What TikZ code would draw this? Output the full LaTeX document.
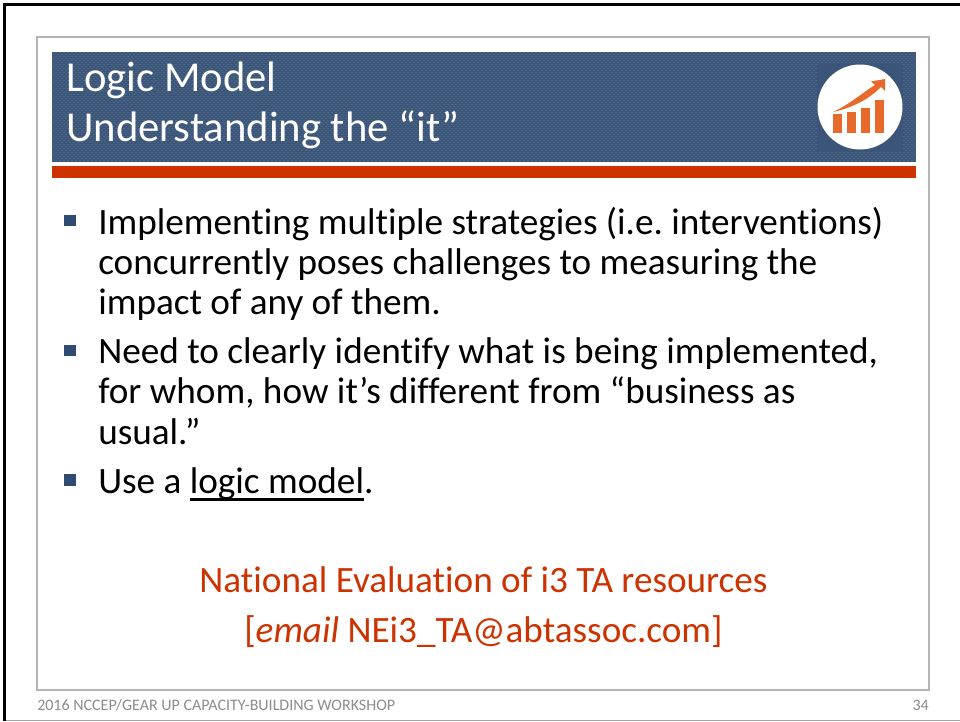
\documentclass[tikz,border=0pt]{standalone}
\usepackage{fontspec}
\setmainfont{Carlito}[RawFeature={-liga;-clig;-dlig}]
\frenchspacing
\definecolor{navy}{HTML}{3A5578}
\definecolor{rust}{HTML}{CC3300}
\definecolor{chart}{HTML}{E8692C}
\definecolor{foot}{HTML}{8C8C8C}
\definecolor{framegray}{HTML}{B4B4B4}
\definecolor{bulletblue}{HTML}{2F4B73}
\newlength\ulw
\newcommand\thickul[1]{\settowidth\ulw{#1}\rlap{\rule[-5.8pt]{\ulw}{2.1pt}}#1}
\tikzset{
  px/.style={x=0.75pt,y=-0.75pt},
  titletext/.style={anchor=base west,inner sep=0,text=white,font=\fontsize{32}{32}\selectfont},
  bodytext/.style={anchor=base west,inner sep=0,text=black,font=\fontsize{27.9}{28}\selectfont},
  redtext/.style={anchor=base,inner sep=0,text=rust,font=\fontsize{27.9}{28}\selectfont},
  foottext/.style={inner sep=0,text=foot,font=\fontsize{12}{12}\selectfont},
  bullet/.style={fill=bulletblue,draw=none}
}
\begin{document}
\begin{tikzpicture}[px]
\useasboundingbox (0,0) rectangle (960,721);
\fill[white] (0,0) rectangle (960,721);
% outer frame
\fill[black] (3,3) rectangle (960,5.5);
\fill[black] (3,3) rectangle (6,721);
\fill[gray!70] (6,719.5) rectangle (960,721);
% slide frame
\draw[framegray,line width=0.9pt] (37,37) rectangle (929,690);
% title band
\fill[navy] (52,52) rectangle (916,162);
\begin{scope}
\clip (52,52) rectangle (916,162);
\foreach \i in {0,2,...,432}{
  \draw[white,opacity=0.12,line width=1pt,dash pattern=on 1.1pt off 1.9pt] (52+2*\i,52) -- (52+2*\i,162);
  \draw[white,opacity=0.12,line width=1pt,dash pattern=on 1.1pt off 1.9pt,dash phase=1.5pt] (54+2*\i,52) -- (54+2*\i,162);
}
\end{scope}
\fill[navy] (817,63) rectangle (903,152);
\fill[rust] (52,166) rectangle (916,178);
% icon
\fill[white] (860,107) circle (42.5);
\fill[chart] (833,114) rectangle (842,133);
\fill[chart] (847,112) rectangle (856,133);
\fill[chart] (861,108) rectangle (870,133);
\fill[chart] (874.5,100) rectangle (884,133);
\fill[chart] (833,112) .. controls (852,103) and (866,90) .. (875,85) -- (871,81.5) -- (885,79) -- (885,91) -- (881,87) .. controls (870,98) and (855,107) .. (833,112) -- cycle;
% title
\node[titletext] (t1) at (66,91) {Logic Model};
\node[titletext] (t2) at (66,141) {Understanding the “it”};
% bullets
\fill[bullet] (64,214.5) rectangle (75.5,226);
\fill[bullet] (64,344.5) rectangle (75.5,356);
\fill[bullet] (64,474) rectangle (75.5,485.5);
% body
\node[bodytext] (b1) at (98,234) {Implementing multiple strategies (i.e. interventions)};
\node[bodytext] (b2) at (98,274) {concurrently poses challenges to measuring the};
\node[bodytext] (b3) at (98,314) {impact of any of them.};
\node[bodytext] (b4) at (98,363) {Need to clearly identify what is being implemented,};
\node[bodytext] (b5) at (98,403) {for whom, how it’s different from “business as};
\node[bodytext] (b6) at (98,444) {usual.”};
\node[bodytext] (b7) at (98,493) {Use a \thickul{logic model}.};
% red
\node[redtext] (r1) at (483.5,592) {National Evaluation of i3 TA resources};
\node[redtext] (r2) at (483.5,642) {[\textit{email} NEi3\_TA@abtassoc.com]};
% footer
\node[foottext,anchor=west] (f1) at (37,705) {2016 NCCEP/GEAR UP CAPACITY-BUILDING WORKSHOP};
\node[foottext,anchor=east] (f2) at (929,705) {34};
\end{tikzpicture}
\end{document}
